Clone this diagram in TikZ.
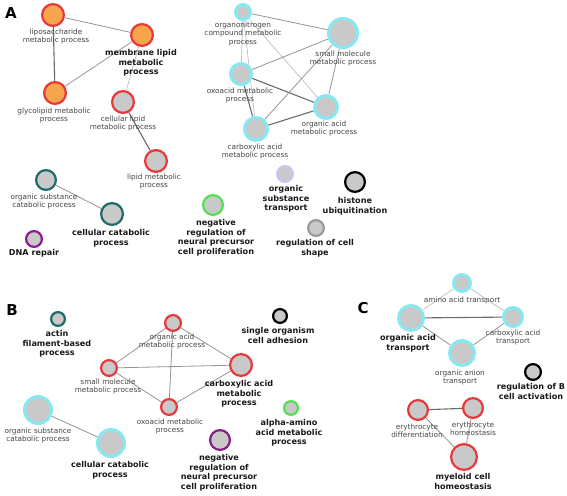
\documentclass[tikz,border=0pt]{standalone}
\usepackage{fontspec}
\setmainfont{DejaVu Sans}
\pgfdeclarelayer{bg}
\pgfsetlayers{bg,main}
\definecolor{ringred}{HTML}{E8383B}
\definecolor{fillorange}{HTML}{F7A54C}
\definecolor{fillgray}{HTML}{C9C9C9}
\definecolor{ringcyan}{HTML}{86E9F2}
\definecolor{ringteal}{HTML}{1F6B6B}
\definecolor{ringpurple}{HTML}{8A1C8C}
\definecolor{ringgreen}{HTML}{52E052}
\definecolor{ringlav}{HTML}{C6C6F2}
\definecolor{ringgray}{HTML}{9A9A9A}
\definecolor{txtgray}{HTML}{444444}
\tikzset{
  gonode/.style={circle, inner sep=0pt, line width=2.2pt, fill=fillgray},
  redn/.style={gonode, draw=ringred},
  orn/.style={gonode, draw=ringred, fill=fillorange},
  cyn/.style={gonode, draw=ringcyan, line width=3pt},
  teal/.style={gonode, draw=ringteal},
  purp/.style={gonode, draw=ringpurple},
  grn/.style={gonode, draw=ringgreen},
  lav/.style={gonode, draw=ringlav},
  blk/.style={gonode, draw=black},
  gryn/.style={gonode, draw=ringgray},
  lbl/.style={anchor=north, inner sep=0pt, align=center, text=txtgray, font=\fontsize{7.3}{8.6}\selectfont},
  blbl/.style={anchor=north, inner sep=0pt, align=center, text=black!90, font=\fontsize{8.1}{9.7}\selectfont\bfseries},
  panel/.style={inner sep=0pt, font=\fontsize{15}{15}\selectfont\bfseries},
  lnk/.style={draw=black!42, line width=0.8pt},
  dlnk/.style={draw=black!58, line width=1.1pt},
  llnk/.style={draw=black!25, line width=0.7pt},
}
\begin{document}
\begin{tikzpicture}[x=1pt,y=-1pt]
\useasboundingbox (0,0) rectangle (567,495);
% panel letters
\node[panel] (pA) at (11,13) {A};
\node[panel] (pB) at (12,310) {B};
\node[panel] (pC) at (363,308) {C};
% ---------- A ----------
\node[orn, minimum size=21.8pt] (lipo) at (53,15) {};
\node[orn, minimum size=21.8pt] (memb) at (142,35) {};
\node[orn, minimum size=21.8pt] (glyco) at (55,93) {};
\node[redn, minimum size=21.8pt] (cellip) at (123,102) {};
\node[redn, minimum size=21.8pt] (lipid) at (156,161) {};
\node[cyn, minimum size=15pt] (orgN) at (243,12) {};
\node[cyn, minimum size=29pt] (smallA) at (343,33) {};
\node[cyn, minimum size=21pt] (oxoA) at (241,74) {};
\node[cyn, minimum size=23pt] (orgacA) at (326,107) {};
\node[cyn, minimum size=23pt] (carbA) at (256,129) {};
\node[teal, minimum size=19.8pt] (oscA) at (46,180) {};
\node[teal, minimum size=21.8pt] (ccA) at (112,214) {};
\node[purp, minimum size=15.8pt] (dna) at (34,239) {};
\node[lav, minimum size=15.8pt] (ost) at (285,174) {};
\node[blk, minimum size=19.8pt] (hist) at (355,182) {};
\node[grn, minimum size=19.8pt] (negA) at (213,205) {};
\node[gryn, minimum size=15.8pt] (rcs) at (316,228) {};
\node[lbl] (lipoL) at (56,28.5) {liposaccharide\\metabolic process};
\node[blbl] (membL) at (141,49) {membrane lipid\\metabolic\\process};
\node[lbl] (glycoL) at (54,107.5) {glycolipid metabolic\\process};
\node[lbl] (cellipL) at (123,115.5) {cellular lipid\\metabolic process};
\node[lbl] (lipidL) at (154,173.5) {lipid metabolic\\process};
\node[lbl] (orgNL) at (243,21.5) {organonitrogen\\compound metabolic\\process};
\node[lbl] (smallAL) at (343,50.5) {small molecule\\metabolic process};
\node[lbl] (oxoAL) at (240,87.5) {oxoacid metabolic\\process};
\node[lbl] (orgacAL) at (324,120.5) {organic acid\\metabolic process};
\node[lbl] (carbAL) at (255,143.5) {carboxylic acid\\metabolic process};
\node[lbl] (oscAL) at (44,193.5) {organic substance\\catabolic process};
\node[blbl] (ccAL) at (111,229) {cellular catabolic\\process};
\node[blbl] (dnaL) at (34,249) {DNA repair};
\node[blbl] (ostL) at (286,185) {organic\\substance\\transport};
\node[blbl] (histL) at (355,197) {histone\\ubiquitination};
\node[blbl] (negAL) at (216,219) {negative\\regulation of\\neural precursor\\cell proliferation};
\node[blbl] (rcsL) at (315,239) {regulation of cell\\shape};
% ---------- B ----------
\node[teal, minimum size=13.8pt] (actin) at (58,319) {};
\node[redn, minimum size=15.8pt] (oaB) at (173,323) {};
\node[redn, minimum size=15.8pt] (smB) at (109,368) {};
\node[redn, minimum size=15.8pt] (oxB) at (169,407) {};
\node[redn, minimum size=21.8pt] (carbB) at (241,365) {};
\node[cyn, minimum size=27pt] (oscB) at (38,410) {};
\node[cyn, minimum size=27pt] (ccB) at (111,443) {};
\node[blk, minimum size=13.8pt] (soca) at (280,316) {};
\node[grn, minimum size=13.8pt] (alpha) at (291,408) {};
\node[purp, minimum size=19.8pt] (negB) at (220,440) {};
\node[blbl] (actinL) at (57,330) {actin\\filament-based\\process};
\node[lbl] (oaBL) at (172,333.5) {organic acid\\metabolic process};
\node[lbl] (smBL) at (108,378.5) {small molecule\\metabolic process};
\node[lbl] (oxBL) at (170,418.5) {oxoacid metabolic\\process};
\node[lbl] (oscBL) at (38,427.5) {organic substance\\catabolic process};
\node[blbl] (ccBL) at (110,461) {cellular catabolic\\process};
\node[blbl] (carbBL) at (239,380) {carboxylic acid\\metabolic\\process};
\node[blbl] (socaL) at (278,327) {single organism\\cell adhesion};
\node[blbl] (alphaL) at (289,419) {alpha-amino\\acid metabolic\\process};
\node[blbl] (negBL) at (219,454) {negative\\regulation of\\neural precursor\\cell proliferation};
% ---------- C ----------
\node[cyn, minimum size=17pt] (aat) at (462,283) {};
\node[cyn, minimum size=25pt] (oat) at (411,318) {};
\node[cyn, minimum size=19pt] (cat) at (513,317) {};
\node[cyn, minimum size=25pt] (oant) at (462,353) {};
\node[blk, minimum size=15.8pt] (rbc) at (533,372) {};
\node[redn, minimum size=19.8pt] (ed) at (418,410) {};
\node[redn, minimum size=19.8pt] (eh) at (473,408) {};
\node[redn, minimum size=25.8pt] (mch) at (464,457) {};
\node[lbl] (aatL) at (462,296.5) {amino acid transport};
\node[blbl] (oatL) at (408,334) {organic acid\\transport};
\node[lbl] (catL) at (513,329.5) {carboxylic acid\\transport};
\node[lbl] (oantL) at (460,369.5) {organic anion\\transport};
\node[blbl] (rbcL) at (531,383) {regulation of B\\cell activation};
\node[lbl] (edL) at (417,423.5) {erythrocyte\\differentiation};
\node[lbl] (ehL) at (473,421.5) {erythrocyte\\homeostasis};
\node[blbl] (mchL) at (463,473) {myeloid cell\\homeostasis};
% ---------- edges ----------
\begin{pgfonlayer}{bg}
\draw[lnk] (lipo) -- (memb);
\draw[dlnk] (lipo) -- (glyco);
\draw[lnk] (glyco) -- (memb);
\draw[llnk] (memb) -- (cellip);
\draw[dlnk] (cellip) -- (lipid);
\draw[lnk] (orgN) -- (smallA);
\draw[llnk] (orgN) -- (oxoA);
\draw[llnk] (orgN) -- (carbA);
\draw[llnk] (orgN) -- (orgacA);
\draw[lnk] (oxoA) -- (smallA);
\draw[dlnk] (oxoA) -- (orgacA);
\draw[dlnk] (oxoA) -- (carbA);
\draw[lnk] (smallA) -- (carbA);
\draw[lnk] (smallA) -- (orgacA);
\draw[dlnk] (carbA) -- (orgacA);
\draw[lnk] (oscA) -- (ccA);
\draw[lnk] (oaB) -- (smB);
\draw[lnk] (oaB) -- (oxB);
\draw[lnk] (oaB) -- (carbB);
\draw[lnk] (smB) -- (carbB);
\draw[lnk] (smB) -- (oxB);
\draw[lnk] (oxB) -- (carbB);
\draw[lnk] (oscB) -- (ccB);
\draw[llnk] (aat) -- (oat);
\draw[llnk] (aat) -- (cat);
\draw[dlnk] (oat) -- (cat);
\draw[lnk] (oat) -- (oant);
\draw[lnk] (oant) -- (cat);
\draw[dlnk] (ed) -- (eh);
\draw[lnk] (ed) -- (mch);
\draw[lnk] (eh) -- (mch);
\end{pgfonlayer}
\end{tikzpicture}
\end{document}
